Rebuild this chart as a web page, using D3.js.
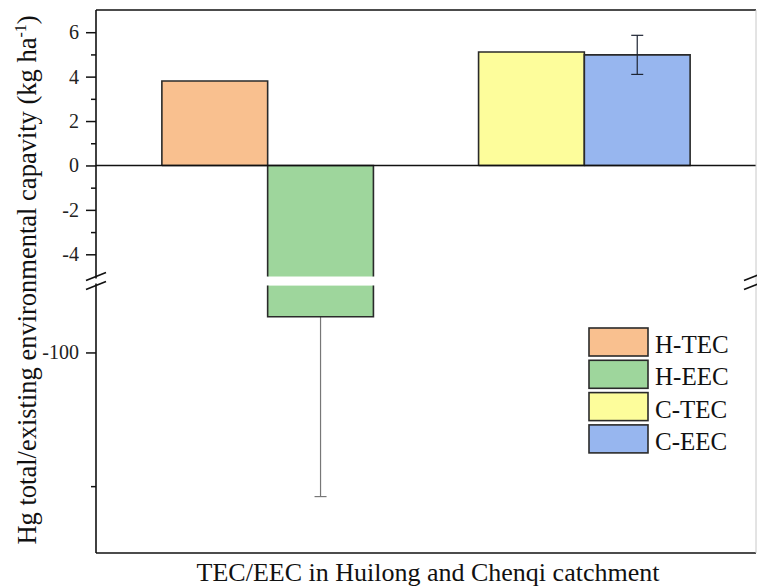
<!DOCTYPE html>
<html>
<head>
<meta charset="utf-8">
<script src="https://cdn.jsdelivr.net/npm/d3@7"></script>
<style>
  html, body { margin: 0; padding: 0; background: #fff; }
  svg { display: block; }
  svg text { font-family: "Liberation Serif", "Times New Roman", serif; }
</style>
</head>
<body>
<svg id="chart" width="757" height="587"></svg>
<script>
// Catchments and the four bar series (TEC = total, EEC = existing capacity)
const catchments = ["Huilong", "Chenqi"];
const capacityTypes = ["TEC", "EEC"];
const seriesNames = ["H-TEC", "H-EEC", "C-TEC", "C-EEC"];
const seriesCatchment = ["Huilong", "Huilong", "Chenqi", "Chenqi"];
const seriesType = ["TEC", "EEC", "TEC", "EEC"];
const seriesValues = [3.8, -73.3, 5.11, 4.98];
const seriesErrors = [0, 134.5, 0, 0.88];
const seriesColors = ["#F9C08F", "#9ED69C", "#FDFD9B", "#97B6EF"];

// Broken y axis: upper segment and lower segment
const upperDomain = [-5, 7];
const lowerDomain = [-250, -50];
const upperMajorTicks = [-4, -2, 0, 2, 4, 6];
const upperMinorTicks = [-3, -1, 1, 3, 5];
const lowerMajorTicks = [-100];
const lowerMinorTicks = [-200];

(function draw() {
  const svg = d3.select("#chart");
  const pL = 96, pR = 756, pT = 10, pB = 553;
  const upperBottom = 276.5, lowerTop = 285.6;

  const yUp = d3.scaleLinear().domain(upperDomain).range([upperBottom, pT]);
  const yLo = d3.scaleLinear().domain(lowerDomain).range([pB, lowerTop]);
  const yOf = v => v >= upperDomain[0] ? yUp(v) : yLo(v);

  const x0 = d3.scaleBand().domain(catchments).range([pL, pR])
    .paddingInner(0.332).paddingOuter(0.208);
  const x1 = d3.scaleBand().domain(capacityTypes).range([0, x0.bandwidth()]);

  const bars = seriesNames.map((name, i) => ({
    name, value: seriesValues[i], err: seriesErrors[i], color: seriesColors[i],
    x: x0(seriesCatchment[i]) + x1(seriesType[i]), w: x1.bandwidth()
  }));

  // Error bars of negative bars: drawn first so the bar body hides the inner half
  const errG = svg.append("g");
  bars.filter(d => d.err > 0 && d.value < 0).forEach(d => {
    const cx = d.x + d.w / 2;
    const yA = yOf(d.value);
    const yB = yOf(d.value - d.err);
    errG.append("line").attr("x1", cx).attr("x2", cx).attr("y1", yA).attr("y2", yB)
      .attr("stroke", "#777").attr("stroke-width", 1.2);
    errG.append("line").attr("x1", cx - 6).attr("x2", cx + 6).attr("y1", yB).attr("y2", yB)
      .attr("stroke", "#777").attr("stroke-width", 1.2);
  });

  // Bars; a bar crossing the break is split into two pieces
  const barG = svg.append("g");
  bars.forEach(d => {
    const pieces = [];
    if (d.value >= upperDomain[0]) {
      pieces.push({ y0: yUp(0), y1: yUp(d.value), openEnd: false, openStart: false });
    } else {
      pieces.push({ y0: yUp(0), y1: yUp(upperDomain[0]), openEnd: true, openStart: false });
      pieces.push({ y0: yLo(lowerDomain[1]), y1: yLo(d.value), openEnd: false, openStart: true });
    }
    pieces.forEach(p => {
      const yT = Math.min(p.y0, p.y1), h = Math.abs(p.y1 - p.y0);
      barG.append("rect").attr("x", d.x).attr("y", yT).attr("width", d.w).attr("height", h)
        .attr("fill", d.color);
      const path = d3.path();
      path.moveTo(d.x, p.y0); path.lineTo(d.x, p.y1);
      if (!p.openEnd) path.lineTo(d.x + d.w, p.y1); else path.moveTo(d.x + d.w, p.y1);
      path.lineTo(d.x + d.w, p.y0);
      if (!p.openStart) path.lineTo(d.x, p.y0);
      barG.append("path").attr("d", path.toString()).attr("fill", "none")
        .attr("stroke", "#2a2a2a").attr("stroke-width", 1.6);
    });
  });

  // Error bars of positive bars sit on top of the bar
  const topErr = svg.append("g");
  bars.filter(d => d.err > 0 && d.value > 0).forEach(d => {
    const cx = d.x + d.w / 2;
    topErr.append("line").attr("x1", cx).attr("x2", cx)
      .attr("y1", yOf(d.value + d.err)).attr("y2", yOf(d.value - d.err))
      .attr("stroke", "#1d2433").attr("stroke-width", 1.2);
    [d.value + d.err, d.value - d.err].forEach(v => {
      topErr.append("line").attr("x1", cx - 6).attr("x2", cx + 6)
        .attr("y1", yOf(v)).attr("y2", yOf(v))
        .attr("stroke", "#1d2433").attr("stroke-width", 1.2);
    });
  });

  // Zero line
  svg.append("line").attr("x1", pL).attr("x2", pR).attr("y1", yUp(0)).attr("y2", yUp(0))
    .attr("stroke", "#111").attr("stroke-width", 1.5);

  // Frame: top, bottom, right
  svg.append("line").attr("x1", pL).attr("x2", pR).attr("y1", pT).attr("y2", pT)
    .attr("stroke", "#111").attr("stroke-width", 1.6);
  svg.append("line").attr("x1", pL).attr("x2", pR).attr("y1", pB).attr("y2", pB)
    .attr("stroke", "#111").attr("stroke-width", 1.6);
  svg.append("line").attr("x1", pR).attr("x2", pR).attr("y1", pT).attr("y2", pB)
    .attr("stroke", "#c8c8c8").attr("stroke-width", 1);

  // Left axis, upper segment
  const axUp = svg.append("g").attr("transform", `translate(${pL},0)`)
    .call(d3.axisLeft(yUp).tickValues(upperMajorTicks).tickSize(10).tickPadding(7)
      .tickFormat(d => d < 0 ? "-" + Math.abs(d) : d));
  axUp.select(".domain").attr("d", `M0,${pT}V${upperBottom + 2}`);
  const axUpMinor = svg.append("g").attr("transform", `translate(${pL},0)`)
    .call(d3.axisLeft(yUp).tickValues(upperMinorTicks).tickSize(5).tickFormat(""));
  axUpMinor.select(".domain").remove();

  // Left axis, lower segment
  const axLo = svg.append("g").attr("transform", `translate(${pL},0)`)
    .call(d3.axisLeft(yLo).tickValues(lowerMajorTicks).tickSize(10).tickPadding(7)
      .tickFormat(d => "-" + Math.abs(d)));
  axLo.select(".domain").attr("d", `M0,${lowerTop - 2}V${pB}`);
  const axLoMinor = svg.append("g").attr("transform", `translate(${pL},0)`)
    .call(d3.axisLeft(yLo).tickValues(lowerMinorTicks).tickSize(5).tickFormat(""));
  axLoMinor.select(".domain").remove();

  svg.selectAll(".tick text").attr("font-size", 20).attr("fill", "#222");
  svg.selectAll(".tick line").attr("stroke", "#111").attr("stroke-width", 1.5);
  svg.selectAll(".domain").attr("stroke", "#111").attr("stroke-width", 1.6);

  // Break marks on both sides
  const breakMid = (upperBottom + lowerTop) / 2;
  [pL, pR - 2].forEach(bx => {
    [-4.5, 4.5].forEach(off => {
      svg.append("line").attr("x1", bx - 10).attr("x2", bx + 10)
        .attr("y1", breakMid + off + 4).attr("y2", breakMid + off - 4)
        .attr("stroke", "#111").attr("stroke-width", 1.6);
    });
  });

  // Legend
  const leg = svg.append("g").attr("transform", "translate(589,328)");
  seriesNames.forEach((name, i) => {
    const g = leg.append("g").attr("transform", `translate(0,${i * 32.3})`);
    g.append("rect").attr("width", 59).attr("height", 28).attr("fill", seriesColors[i])
      .attr("stroke", "#2a2a2a").attr("stroke-width", 1.6);
    g.append("text").attr("x", 66).attr("y", 25).attr("font-size", 25).attr("fill", "#111")
      .text(name);
  });

  // Axis titles
  svg.append("text").attr("x", (pL + pR) / 2 + 2).attr("y", 581)
    .attr("text-anchor", "middle").attr("font-size", 26).attr("fill", "#111")
    .text("TEC/EEC in Huilong and Chenqi catchment");

  const yTitle = svg.append("text").attr("transform", "translate(36,280) rotate(-90)")
    .attr("text-anchor", "middle").attr("font-size", 26.5).attr("fill", "#111");
  yTitle.append("tspan").text("Hg total/existing environmental capavity (kg ha");
  yTitle.append("tspan").attr("font-size", 16).attr("dy", -10).text("-1");
  yTitle.append("tspan").attr("dy", 10).text(")");
})();
</script>
</body>
</html>
